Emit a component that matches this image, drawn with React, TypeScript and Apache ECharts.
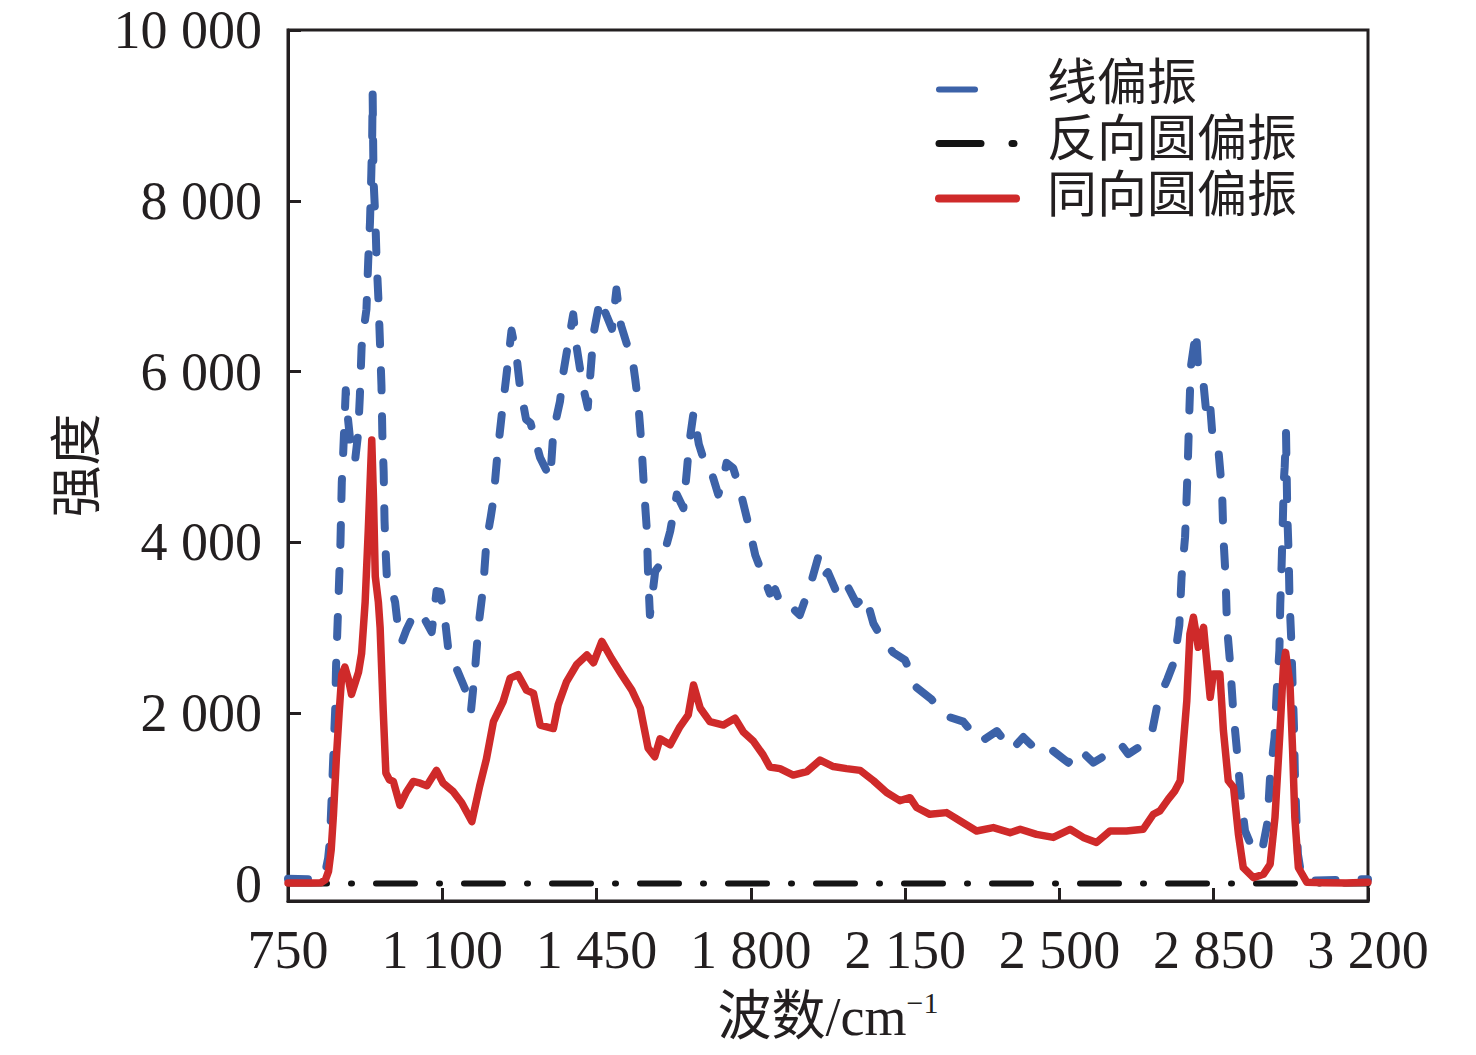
import React, { useEffect, useRef } from "react";
import * as echarts from "echarts";

// ---- data ----
const X_TICKS_MIN = 750;
const X_TICKS_MAX = 3200;
const X_INTERVAL = 350;
const Y_TICKS = [0, 2000, 4000, 6000, 8000, 10000];

const SERIES_NAMES = ["线偏振", "反向圆偏振", "同向圆偏振"];

// 线偏振 (linear polarization)
const linearX = [
  750, 800, 825, 835, 841, 845, 849, 853, 857, 859, 862, 866, 869, 872, 875, 879, 881, 885, 891, 902,
  909, 913, 917, 922, 928, 932, 936, 939, 941, 942, 944, 948, 951, 955, 959, 962, 964, 967, 969, 972,
  974, 985, 993, 1000, 1008, 1019, 1034, 1045, 1060, 1076, 1087, 1095, 1106, 1114, 1130, 1148, 1158, 1165, 1174, 1182,
  1193, 1200, 1210, 1216, 1225, 1235, 1245, 1257, 1268, 1276, 1290, 1300, 1322, 1345, 1352, 1367, 1375, 1388, 1397, 1405,
  1418, 1430, 1443, 1458, 1473, 1485, 1495, 1505, 1520, 1530, 1538, 1545, 1552, 1558, 1564, 1567, 1571, 1583, 1595, 1605,
  1617, 1632, 1647, 1655, 1660, 1670, 1682, 1698, 1710, 1726, 1735, 1745, 1760, 1775, 1795, 1810, 1825, 1843, 1855, 1870,
  1890, 1911, 1935, 1953, 1965, 1975, 2000, 2020, 2040, 2060, 2078, 2100, 2123, 2150, 2176, 2210, 2240, 2282, 2320, 2358,
  2392, 2418, 2452, 2480, 2520, 2545, 2577, 2615, 2640, 2656, 2680, 2709, 2724, 2745, 2760, 2772, 2777, 2785, 2789, 2792,
  2795, 2798, 2805, 2810, 2815, 2826, 2834, 2842, 2848, 2861, 2869, 2872, 2877, 2880, 2887, 2894, 2902, 2911, 2921, 2935,
  2952, 2962, 2972, 2978, 2988, 2993, 2999, 3001, 3004, 3007, 3009, 3011, 3014, 3017, 3020, 3022, 3026, 3029, 3032, 3034,
  3037, 3041, 3050, 3080, 3150, 3200,
];
const linearY = [
  60, 55, 70, 150, 300, 500, 1000, 1520, 2030, 2540, 2980, 3560, 4000, 4700, 5020, 5520, 5780, 5500, 5200, 4950,
  5270, 5710, 6290, 6500, 6730, 7300, 7750, 8320, 8760, 9270, 8250, 7810, 7300, 6860, 6290, 5840, 5270, 4830, 4250, 3840,
  3620, 3450, 3300, 2980, 2830, 2980, 3140, 3050, 3100, 2950, 3430, 3420, 3100, 2730, 2550, 2330, 2200, 2020, 2490, 3015,
  3485, 4000, 4300, 4500, 5030, 5500, 5930, 6480, 6200, 5830, 5440, 5400, 4990, 4750, 5300, 5650, 6000, 6400, 6670, 6280,
  5850, 5580, 6440, 6850, 6650, 6500, 6960, 6550, 6300, 6200, 5900, 5600, 5130, 4600, 4150, 3600, 3150, 3660, 3750, 3900,
  4130, 4560, 4400, 4850, 5150, 5520, 5150, 4890, 4830, 4560, 4700, 4930, 4870, 4620, 4200, 3850, 3650, 3400, 3450, 3250,
  3250, 3150, 3500, 3830, 3600, 3650, 3350, 3480, 3280, 3380, 3050, 2850, 2710, 2620, 2300, 2160, 1970, 1900, 1660, 1790,
  1570, 1720, 1550, 1580, 1420, 1580, 1420, 1540, 1630, 1520, 1600, 1755, 2145, 2400, 2600, 3030, 3590, 4060, 4590, 5060,
  5580, 6050, 6300, 6480, 6010, 5900, 5470, 5600, 5190, 5060, 4590, 4060, 3590, 3025, 2595, 2048, 1598, 1052, 621, 450,
  360, 450, 720, 1266, 1716, 2263, 2732, 3278, 3727, 4294, 4724, 4880, 5290, 4310, 3860, 3320, 2850, 2322, 1853, 1325,
  856, 348, 60, 40, 50, 55,
];

// 反向圆偏振 (reverse circular polarization) – flat at zero
const reverseX = [750, 3200];
const reverseY = [5, 5];

// 同向圆偏振 (same-direction circular polarization)
const sameX = [
  750, 800, 825, 835, 842, 848, 853, 860, 866, 872, 879, 887, 894, 902, 910, 917, 925, 932, 937, 940,
  944, 948, 955, 959, 966, 972, 980, 989, 1004, 1019, 1034, 1050, 1065, 1087, 1102, 1125, 1144, 1167, 1185, 1200,
  1216, 1238, 1254, 1272, 1291, 1307, 1322, 1352, 1363, 1382, 1405, 1428, 1443, 1462, 1484, 1507, 1530, 1549, 1567, 1582,
  1594, 1617, 1639, 1658, 1670, 1685, 1707, 1738, 1764, 1783, 1806, 1828, 1843, 1866, 1896, 1927, 1957, 1987, 2017, 2048,
  2078, 2108, 2138, 2161, 2176, 2206, 2244, 2274, 2312, 2350, 2388, 2411, 2448, 2486, 2524, 2554, 2584, 2615, 2652, 2690,
  2713, 2728, 2747, 2762, 2774, 2781, 2789, 2796, 2804, 2815, 2827, 2834, 2842, 2849, 2864, 2872, 2883, 2895, 2906, 2917,
  2940, 2963, 2978, 2989, 3000, 3008, 3013, 3023, 3029, 3034, 3042, 3061, 3100, 3150, 3200,
];
const sameY = [
  10, 10, 15, 50, 150, 400, 800, 1500, 2000, 2450, 2540, 2400, 2220, 2350, 2480, 2700, 3300, 4130, 4800, 5200,
  4500, 3600, 3300, 3000, 2030, 1300, 1220, 1200, 920, 1080, 1200, 1180, 1150, 1330, 1180, 1080, 950, 730, 1150, 1460,
  1900, 2135, 2410, 2450, 2270, 2230, 1860, 1820, 2100, 2370, 2570, 2680, 2590, 2840, 2640, 2450, 2270, 2060, 1590, 1490,
  1700, 1630, 1840, 1980, 2330, 2060, 1900, 1860, 1940, 1780, 1670, 1510, 1370, 1350, 1275, 1315, 1450, 1375, 1350, 1330,
  1210, 1070, 975, 1010, 895, 815, 835, 740, 620, 660, 600, 640, 580, 545, 640, 545, 485, 620, 620, 640,
  816, 856, 993, 1090, 1208, 1638, 2146, 2927, 3123, 2771, 3005, 2615, 2185, 2458, 2458, 1794, 1208, 1130, 582, 191,
  74, 113, 231, 778, 1755, 2536, 2712, 2341, 1560, 778, 191, 20, 15, 10, 20,
];

const BLUE = "#3c62a8";
const BLACK = "#141414";
const RED = "#cf2a2a";
const INK = "#231f20";
const SERIF = "'Liberation Serif', 'Noto Sans CJK SC', serif";
const CJK = "'Noto Sans CJK SC', sans-serif";

const zip = (xs: number[], ys: number[]) => xs.map((x, i) => [x, ys[i]]);
const fmt = (v: number) => String(v).replace(/\B(?=(\d{3})+(?!\d))/g, " ");

export default function App() {
  const ref = useRef<HTMLDivElement>(null);

  useEffect(() => {
    if (!ref.current) return;
    const chart = echarts.init(ref.current, undefined, { renderer: "svg" });

    const legendText = (t: string, y: number) => ({
      type: "text",
      x: 1047,
      y,
      style: {
        text: t,
        fontSize: 50,
        lineHeight: 50,
        fontFamily: SERIF,
        fill: INK,
        verticalAlign: "middle",
        align: "left",
      },
    });

    chart.setOption({
      animation: false,
      backgroundColor: "#ffffff",
      grid: {
        left: 288,
        right: 108,
        top: 30,
        bottom: 154,
        show: true,
        borderColor: INK,
        borderWidth: 3,
        backgroundColor: "transparent",
      },
      xAxis: {
        type: "value",
        min: X_TICKS_MIN,
        max: X_TICKS_MAX,
        interval: X_INTERVAL,
        name: "波数/cm{sup|−1}",
        nameLocation: "middle",
        nameGap: 86,
        nameTextStyle: {
          fontSize: 54,
          fontFamily: SERIF,
          color: INK,
          lineHeight: 60,
          rich: {
            sup: { fontSize: 30, fontFamily: SERIF, color: INK, verticalAlign: "top", lineHeight: 30 },
          },
        },
        axisLine: { show: true, onZero: false, lineStyle: { color: INK, width: 3 } },
        axisTick: { show: true, inside: true, length: 13, lineStyle: { color: INK, width: 3 } },
        axisLabel: {
          fontSize: 54,
          fontFamily: SERIF,
          color: INK,
          margin: 22,
          showMinLabel: true,
          showMaxLabel: true,
          formatter: (v: number) => fmt(v),
        },
        splitLine: { show: false },
      },
      yAxis: {
        type: "value",
        min: -200,
        max: 10000,
        name: "强度",
        nameLocation: "middle",
        nameRotate: 90,
        nameGap: 190,
        nameTextStyle: { fontSize: 52, fontFamily: CJK, color: INK },
        axisLine: { show: true, lineStyle: { color: INK, width: 3 } },
        axisTick: { show: true, inside: true, length: 13, customValues: Y_TICKS, lineStyle: { color: INK, width: 3 } },
        axisLabel: {
          customValues: Y_TICKS,
          fontSize: 54,
          fontFamily: SERIF,
          color: INK,
          margin: 26,
          formatter: (v: number) => fmt(v),
        },
        splitLine: { show: false },
      },
      series: [
        {
          name: SERIES_NAMES[0],
          type: "line",
          data: zip(linearX, linearY),
          symbol: "none",
          z: 2,
          lineStyle: { color: BLUE, width: 8, type: [20, 26], cap: "round", join: "round" },
        },
        {
          name: SERIES_NAMES[1],
          type: "line",
          data: zip(reverseX, reverseY),
          symbol: "none",
          z: 3,
          lineStyle: { color: BLACK, width: 6, type: [39, 24, 1, 24], cap: "round" },
        },
        {
          name: SERIES_NAMES[2],
          type: "line",
          data: zip(sameX, sameY),
          symbol: "none",
          z: 4,
          lineStyle: { color: RED, width: 7.5, cap: "round", join: "round" },
        },
      ],
      graphic: [
        {
          type: "line",
          shape: { x1: 939, y1: 89.5, x2: 975, y2: 89.5 },
          style: { stroke: BLUE, lineWidth: 6, lineCap: "round" },
        },
        {
          type: "line",
          shape: { x1: 939, y1: 143.5, x2: 981, y2: 143.5 },
          style: { stroke: BLACK, lineWidth: 7, lineCap: "round" },
        },
        {
          type: "line",
          shape: { x1: 1012, y1: 143.5, x2: 1014, y2: 143.5 },
          style: { stroke: BLACK, lineWidth: 7, lineCap: "round" },
        },
        {
          type: "line",
          shape: { x1: 939, y1: 198.5, x2: 1016, y2: 198.5 },
          style: { stroke: RED, lineWidth: 8, lineCap: "round" },
        },
        legendText(SERIES_NAMES[0], 83),
        legendText(SERIES_NAMES[1], 139),
        legendText(SERIES_NAMES[2], 195),
      ],
    });

    return () => chart.dispose();
  }, []);

  return (
    <div
      ref={ref}
      style={{ position: "absolute", left: 0, top: 0, width: 1476, height: 1055, background: "#fff" }}
    />
  );
}
